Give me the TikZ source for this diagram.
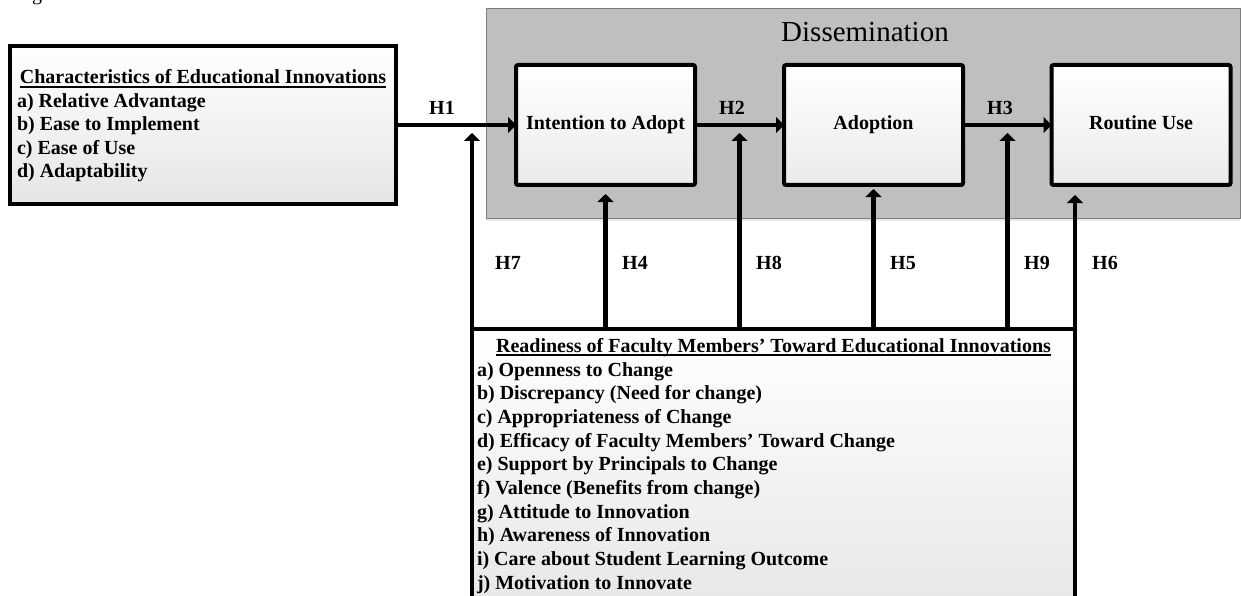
\documentclass[tikz,border=0pt]{standalone}
\usepackage{fontspec}
\setmainfont{Liberation Serif}
\usetikzlibrary{arrows.meta,shadows}
\definecolor{dissfill}{HTML}{BFBFBF}
\definecolor{dissline}{HTML}{7F7F7F}
\begin{document}
\begin{tikzpicture}[x=1pt,y=-1pt,
  every node/.style={inner sep=0pt, outer sep=0pt},
  bodytext/.style={font=\fontsize{20}{23.7}\selectfont\bfseries},
  label/.style={bodytext},
  panel/.style={draw=black, line width=#1, top color=white, bottom color=black!10,
    drop shadow={shadow xshift=1.5pt, shadow yshift=-1.5pt, fill=black!35}},
  stagebox/.style={draw=black, line width=4pt, rounded corners=2pt,
    top color=white, bottom color=black!8, minimum width=179pt, minimum height=120pt,
    text height=13.5pt, text depth=4pt, bodytext, align=center},
  dissem/.style={draw=dissline, line width=1pt, fill=dissfill,
    drop shadow={shadow xshift=0pt, shadow yshift=-2.5pt, fill=black!18}},
  arr/.style={line width=4.5pt, -{Triangle[length=8pt,width=16pt]}},
  uline/.style={line width=1.4pt}
]
\useasboundingbox (0,0) rectangle (1241,596);

% fragment of the caption line above the figure
\node[anchor=base, font=\fontsize{20}{24}\selectfont] (cap) at (37,0.5) {g};

% grey band grouping the three stages
\node[dissem, minimum width=754pt, minimum height=209pt] (dis) at (863,113.5) {};
\node[anchor=base, font=\fontsize{29}{34}\selectfont] (distitle) at (865,42) {Dissemination};

% stages
\node[stagebox] (intent) at (605.5,125) {Intention to Adopt};
\node[stagebox] (adopt) at (873.5,125) {Adoption};
\node[stagebox] (routine) at (1141,125) {Routine Use};

% characteristics panel
\node[panel=4pt, minimum width=386pt, minimum height=158pt] (cb) at (203,125) {};
\node[bodytext, anchor=base] (cbh) at (203,84) {Characteristics of Educational Innovations};
\draw[uline] ([yshift=-3pt]cbh.base west) -- ([yshift=-3pt]cbh.base east);
\foreach \t [count=\k from 0] in {a) Relative Advantage, b) Ease to Implement, c) Ease of Use, d) Adaptability}
  \node[bodytext, anchor=base west] (cb\k) at (17,107.5+23.5*\k) {\t};

% readiness panel (runs past the lower edge)
\node[panel=3.3pt, minimum width=603pt, minimum height=300pt] (rb) at (773.5,479) {};
\node[bodytext, anchor=base] (rbh) at (773.5,352) {Readiness of Faculty Members’ Toward Educational Innovations};
\draw[uline] ([yshift=-3pt]rbh.base west) -- ([yshift=-3pt]rbh.base east);
\foreach \t [count=\k from 0] in {a) Openness to Change, b) Discrepancy (Need for change),
  c) Appropriateness of Change, d) Efficacy of Faculty Members’ Toward Change,
  e) Support by Principals to Change, f) Valence (Benefits from change),
  g) Attitude to Innovation, h) Awareness of Innovation,
  i) Care about Student Learning Outcome, j) Motivation to Innovate}
  \node[bodytext, anchor=base west] (rb\k) at (477,376+23.7*\k) {\t};

% horizontal paths
\draw[arr] (cb.east) -- (cb.east -| intent.west);
\draw[arr] (intent.east) -- (adopt.west);
\draw[arr] (adopt.east) -- (routine.west);

% tips of the vertical paths
\coordinate (t7) at (472,133);
\coordinate (t8) at (739.5,133);
\coordinate (t9) at (1007.5,133);
\coordinate (t6) at (1075,195);

\draw[arr] (rb.north west) -- (t7);
\draw[arr] (rb.north -| intent.south) -- ([yshift=-9pt]intent.south);
\draw[arr] (rb.north -| t8) -- (t8);
\draw[arr] (rb.north -| adopt.south) -- ([yshift=-4pt]adopt.south);
\draw[arr] (rb.north -| t9) -- (t9);
\draw[arr] (rb.north east) -- (t6);

% hypothesis labels
\node[label] (h1) at (442,108) {H1};
\node[label] (h2) at (732,108) {H2};
\node[label] (h3) at (1000,108) {H3};
\node[label] (h7) at (508,263) {H7};
\node[label] (h4) at (635,263) {H4};
\node[label] (h8) at (769,263) {H8};
\node[label] (h5) at (903,263) {H5};
\node[label] (h9) at (1037,263) {H9};
\node[label] (h6) at (1105,263) {H6};
\end{tikzpicture}
\end{document}
